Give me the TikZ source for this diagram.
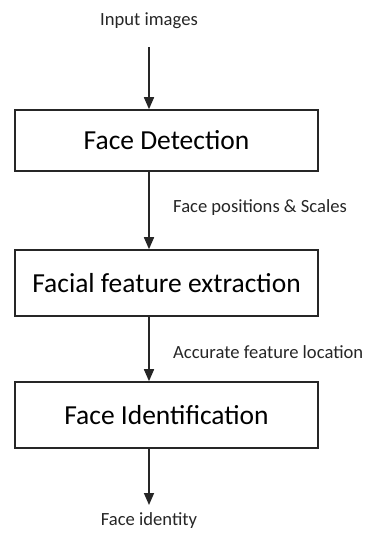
\documentclass[tikz,border=0pt]{standalone}
\usepackage{fontspec}
\setmainfont{Carlito}
\usetikzlibrary{arrows.meta}
\begin{document}
\begin{tikzpicture}[x=1pt,y=-1pt,
  stagebox/.style={draw=black!85,line width=1.6pt,minimum width=303pt,inner sep=0pt,font=\fontsize{27.5}{32}\selectfont},
  lbl/.style={font=\fontsize{18.6}{22}\selectfont,text=black!85,inner sep=0pt},
  flow/.style={draw=black!85,line width=1.6pt,-{Triangle[width=10pt,length=12pt]}}]
\useasboundingbox (0,0) rectangle (367,533);
\node[lbl] (in) at (149,21) {Input images};
\coordinate (instart) at (149,47);
\node[stagebox,minimum height=61pt] (det) at (166.5,140.5) {Face Detection};
\node[stagebox,minimum height=66pt] (ext) at (166.5,283) {Facial feature extraction};
\node[stagebox,minimum height=66pt] (idf) at (166.5,415) {Face Identification};
\coordinate (outend) at (149,505);
\node[lbl] (out) at (149,521) {Face identity};
\node[lbl,anchor=west] (l1) at (173,208) {Face positions \& Scales};
\node[lbl,anchor=west] (l2) at (173,352) {Accurate feature location};
\draw[flow] (instart) -- (instart |- det.north);
\draw[flow] (instart |- det.south) -- (instart |- ext.north);
\draw[flow] (instart |- ext.south) -- (instart |- idf.north);
\draw[flow] (instart |- idf.south) -- (outend);
\end{tikzpicture}
\end{document}
